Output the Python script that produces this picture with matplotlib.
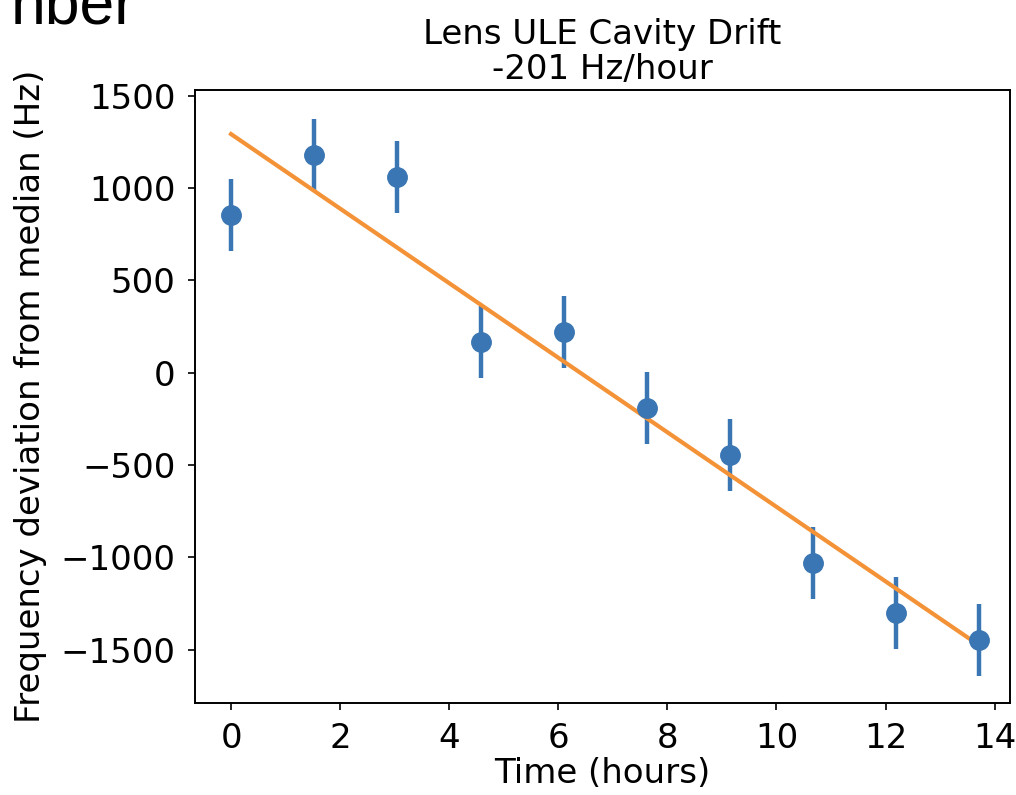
import matplotlib
matplotlib.use("Agg")
import matplotlib.pyplot as plt
import numpy as np

# hours since start and frequency deviation from median (Hz)
time_hours = [0.0, 1.52, 3.05, 4.58, 6.1, 7.62, 9.15, 10.67, 12.19, 13.72]
freq_dev = [855, 1180, 1061, 168, 222, -190, -444, -1029, -1299, -1446]
freq_err = [195, 195, 195, 195, 195, 195, 195, 195, 195, 195]

fs = 24.5

fig = plt.figure(figsize=(10.16, 7.95), dpi=100)
ax = fig.add_axes([0.192, 0.116, 0.802, 0.771])

ax.errorbar(time_hours, freq_dev, yerr=freq_err, fmt="o", color="#3a76b3",
            markersize=14, elinewidth=3.2)

slope, icpt = np.polyfit(time_hours, freq_dev, 1)
t = np.array([time_hours[0], time_hours[-1]])
ax.plot(t, slope * t + icpt, color="#f39237", linewidth=3.0)

ax.set_xlim(-0.66, 14.28)
ax.set_ylim(-1787, 1532)
ax.set_xticks(range(0, 15, 2))
ax.set_yticks([-1500, -1000, -500, 0, 500, 1000, 1500])
ax.tick_params(labelsize=fs, length=5, width=1.2, pad=9)
for sp in ax.spines.values():
    sp.set_linewidth(1.4)

ax.set_xlabel("Time (hours)", fontsize=fs, labelpad=1)
ax.set_ylabel("Frequency deviation from median (Hz)", fontsize=fs, labelpad=10)
ax.set_title("Lens ULE Cavity Drift\n-201 Hz/hour", fontsize=fs, pad=8,
             linespacing=1.05)

# leftover of the page the chart was cut from
fig.text(0.011, 0.971, "nber", fontsize=45, family="Liberation Sans",
         va="baseline", ha="left")

fig.savefig("out.png", dpi=100)
